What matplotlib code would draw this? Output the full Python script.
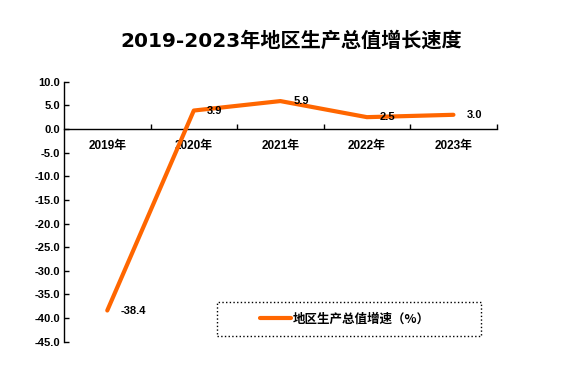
import matplotlib
matplotlib.use("Agg")
import matplotlib.pyplot as plt
from matplotlib.patches import Rectangle

plt.rcParams['axes.unicode_minus'] = False

years = ["2019年", "2020年", "2021年", "2022年", "2023年"]
growth = [-38.4, 3.9, 5.9, 2.5, 3.0]
value_labels = ["-38.4", "3.9", "5.9", "2.5", "3.0"]
yticks = [10, 5, 0, -5, -10, -15, -20, -25, -30, -35, -40, -45]
title = "2019-2023年地区生产总值增长速度"
legend_label = "地区生产总值增速（%）"

W, H = 565, 370
fig = plt.figure(figsize=(W / 100, H / 100), dpi=100)
ax = fig.add_axes([64 / W, 1 - 341.7 / H, (496.7 - 64) / W, (341.7 - 81.7) / H])

tick_font = ['Liberation Sans', 'Noto Sans CJK SC']
color = '#FF6600'

x = list(range(1, len(years) + 1))
line, = ax.plot(x, growth, color=color, lw=3, solid_capstyle='round', label=legend_label, zorder=3)

for xi, yi, lab in zip(x, growth, value_labels):
    ax.annotate(lab, (xi, yi), xytext=(9.5, 0), textcoords='offset points',
                ha='left', va='center', fontsize=8, fontweight='bold', family=tick_font, zorder=4)

ax.set_xlim(0.5, len(years) + 0.5)
ax.set_ylim(-45, 10)

for s in ['top', 'right']:
    ax.spines[s].set_visible(False)
ax.spines['bottom'].set_position(('data', 0))
ax.spines['left'].set_linewidth(1)
ax.spines['bottom'].set_linewidth(1)

ax.set_yticks(yticks)
ax.set_yticklabels([f"{v:.1f}" for v in yticks], fontsize=8, fontweight='bold', family=tick_font)
ax.tick_params(axis='y', direction='in', length=3.6, width=1, pad=3)

ax.set_xticks([i + 0.5 for i in x])
ax.set_xticklabels([])
ax.tick_params(axis='x', which='major', direction='in', length=3.6, width=1)
ax.set_xticks(x, minor=True)
ax.set_xticklabels(years, minor=True, fontsize=8.5, fontweight='bold', family=tick_font)
ax.tick_params(axis='x', which='minor', length=0, pad=8)

fig.text(291 / W, 1 - 41 / H, title, ha='center', va='center', fontsize=14.5,
         fontweight='bold', family=['DejaVu Sans', 'Noto Sans CJK SC'])

fig.patches.append(Rectangle((217 / W, 1 - 336 / H), (481 - 217) / W, (336 - 302) / H,
                             transform=fig.transFigure, fill=False, edgecolor='black',
                             linestyle=':', linewidth=1))
leg = fig.legend(handles=[line], loc='center', bbox_to_anchor=(345 / W, 1 - 319 / H),
                 frameon=False, prop={'family': ['Noto Sans CJK SC'], 'weight': 'bold', 'size': 9},
                 handlelength=2.5, handletextpad=0.15, borderpad=0)

fig.savefig('out.png', dpi=100)
